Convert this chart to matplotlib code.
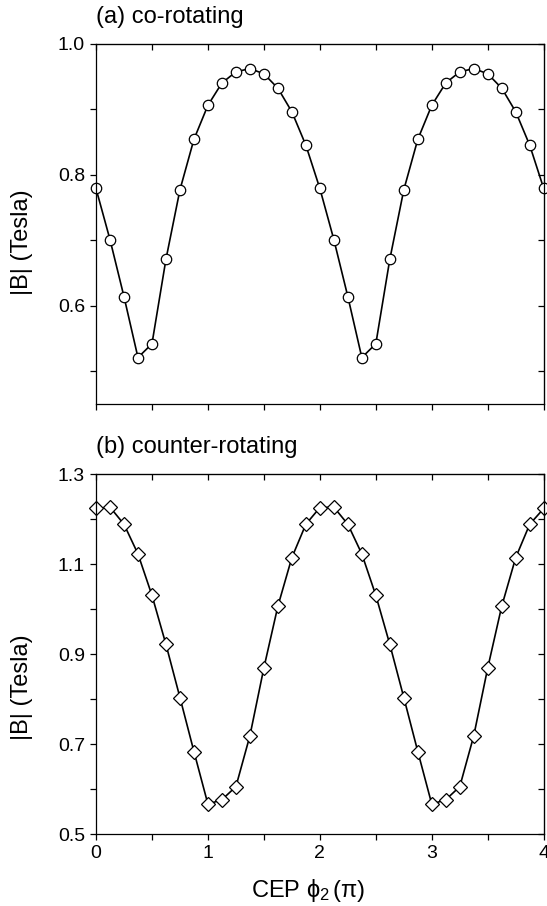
import numpy as np
from matplotlib import pyplot as plt
from matplotlib.ticker import FixedLocator, MultipleLocator

plt.rcParams['font.family'] = ['Liberation Sans', 'DejaVu Sans']
plt.rcParams['mathtext.fontset'] = 'custom'
plt.rcParams['mathtext.rm'] = 'Liberation Sans'
plt.rcParams['mathtext.it'] = 'Liberation Sans'

# CEP phi_2 in units of pi, step pi/8
phi = [0, 0.125, 0.25, 0.375, 0.5, 0.625, 0.75, 0.875,
       1.0, 1.125, 1.25, 1.375, 1.5, 1.625, 1.75, 1.875,
       2.0, 2.125, 2.25, 2.375, 2.5, 2.625, 2.75, 2.875,
       3.0, 3.125, 3.25, 3.375, 3.5, 3.625, 3.75, 3.875, 4.0]

# (a) co-rotating |B| (Tesla)
B_co = [0.779, 0.701, 0.614, 0.521, 0.542, 0.671, 0.777, 0.854,
        0.906, 0.940, 0.957, 0.962, 0.954, 0.932, 0.896, 0.845,
        0.779, 0.701, 0.614, 0.521, 0.542, 0.671, 0.777, 0.854,
        0.906, 0.940, 0.957, 0.962, 0.954, 0.932, 0.896, 0.845, 0.779]

# (b) counter-rotating |B| (Tesla)
B_counter = [1.224, 1.227, 1.189, 1.123, 1.031, 0.922, 0.804, 0.684,
             0.567, 0.577, 0.606, 0.719, 0.870, 1.007, 1.115, 1.189,
             1.226, 1.227, 1.189, 1.123, 1.031, 0.922, 0.804, 0.684,
             0.567, 0.577, 0.606, 0.719, 0.870, 1.007, 1.115, 1.189, 1.224]

xticks = [0, 1, 2, 3, 4]
yticks_a = [0.6, 0.8, 1.0]
yminor_a = [0.5, 0.7, 0.9]
yticks_b = [0.5, 0.7, 0.9, 1.1, 1.3]
yminor_b = [0.6, 0.8, 1.0, 1.2]

fig = plt.figure(figsize=(5.47, 9.06), dpi=100)
ax1 = fig.add_axes([0.1755, 0.554, 0.8185, 0.3978])
ax2 = fig.add_axes([0.1755, 0.0791, 0.8185, 0.3974])


def style_axis(ax, ylo, yhi, major, minor, show_xlabels):
    ax.set_xlim(0, 4)
    ax.set_ylim(ylo, yhi)
    ax.xaxis.set_major_locator(FixedLocator(xticks))
    ax.xaxis.set_minor_locator(MultipleLocator(0.5))
    ax.yaxis.set_major_locator(FixedLocator(major))
    ax.yaxis.set_minor_locator(FixedLocator(minor))
    ax.tick_params(which='both', direction='out', length=4.5, width=0.9,
                   labelsize=14, labelbottom=show_xlabels)
    for s in ax.spines.values():
        s.set_linewidth(0.9)
    # mirrored axes, ticks pointing inward
    top = ax.secondary_xaxis('top')
    top.xaxis.set_major_locator(FixedLocator(xticks))
    top.xaxis.set_minor_locator(MultipleLocator(0.5))
    top.tick_params(which='both', direction='in', length=4.5, width=0.9, labeltop=False)
    right = ax.secondary_yaxis('right')
    right.yaxis.set_major_locator(FixedLocator(major))
    right.yaxis.set_minor_locator(FixedLocator(minor))
    right.tick_params(which='both', direction='in', length=4.5, width=0.9, labelright=False)
    ax.yaxis.set_major_formatter(plt.FormatStrFormatter('%.1f'))


ax1.plot(phi, B_co, '-', color='black', lw=1.2, marker='o', ms=7.5,
         mfc='white', mec='black', mew=0.9, clip_on=False)
style_axis(ax1, 0.45, 1.0, yticks_a, yminor_a, False)
ax1.set_ylabel('|B| (Tesla)', fontsize=17)
ax1.yaxis.set_label_coords(-0.141, 0.45)
ax1.text(0, 1.058, '(a) co-rotating', transform=ax1.transAxes, fontsize=17,
         ha='left', va='baseline')

ax2.plot(phi, B_counter, '-', color='black', lw=1.2, marker='D', ms=7,
         mfc='white', mec='black', mew=0.9, clip_on=False)
style_axis(ax2, 0.5, 1.3, yticks_b, yminor_b, True)
ax2.set_ylabel('|B| (Tesla)', fontsize=17)
ax2.yaxis.set_label_coords(-0.141, 0.41)
ax2.set_xlabel(r'CEP $\mathrm{\phi}_2\,(\mathrm{\pi})$', fontsize=17)
ax2.xaxis.set_label_coords(0.475, -0.118)
ax2.text(0, 1.06, '(b) counter-rotating', transform=ax2.transAxes, fontsize=17,
         ha='left', va='baseline')

plt.savefig('out.png', dpi=100)
